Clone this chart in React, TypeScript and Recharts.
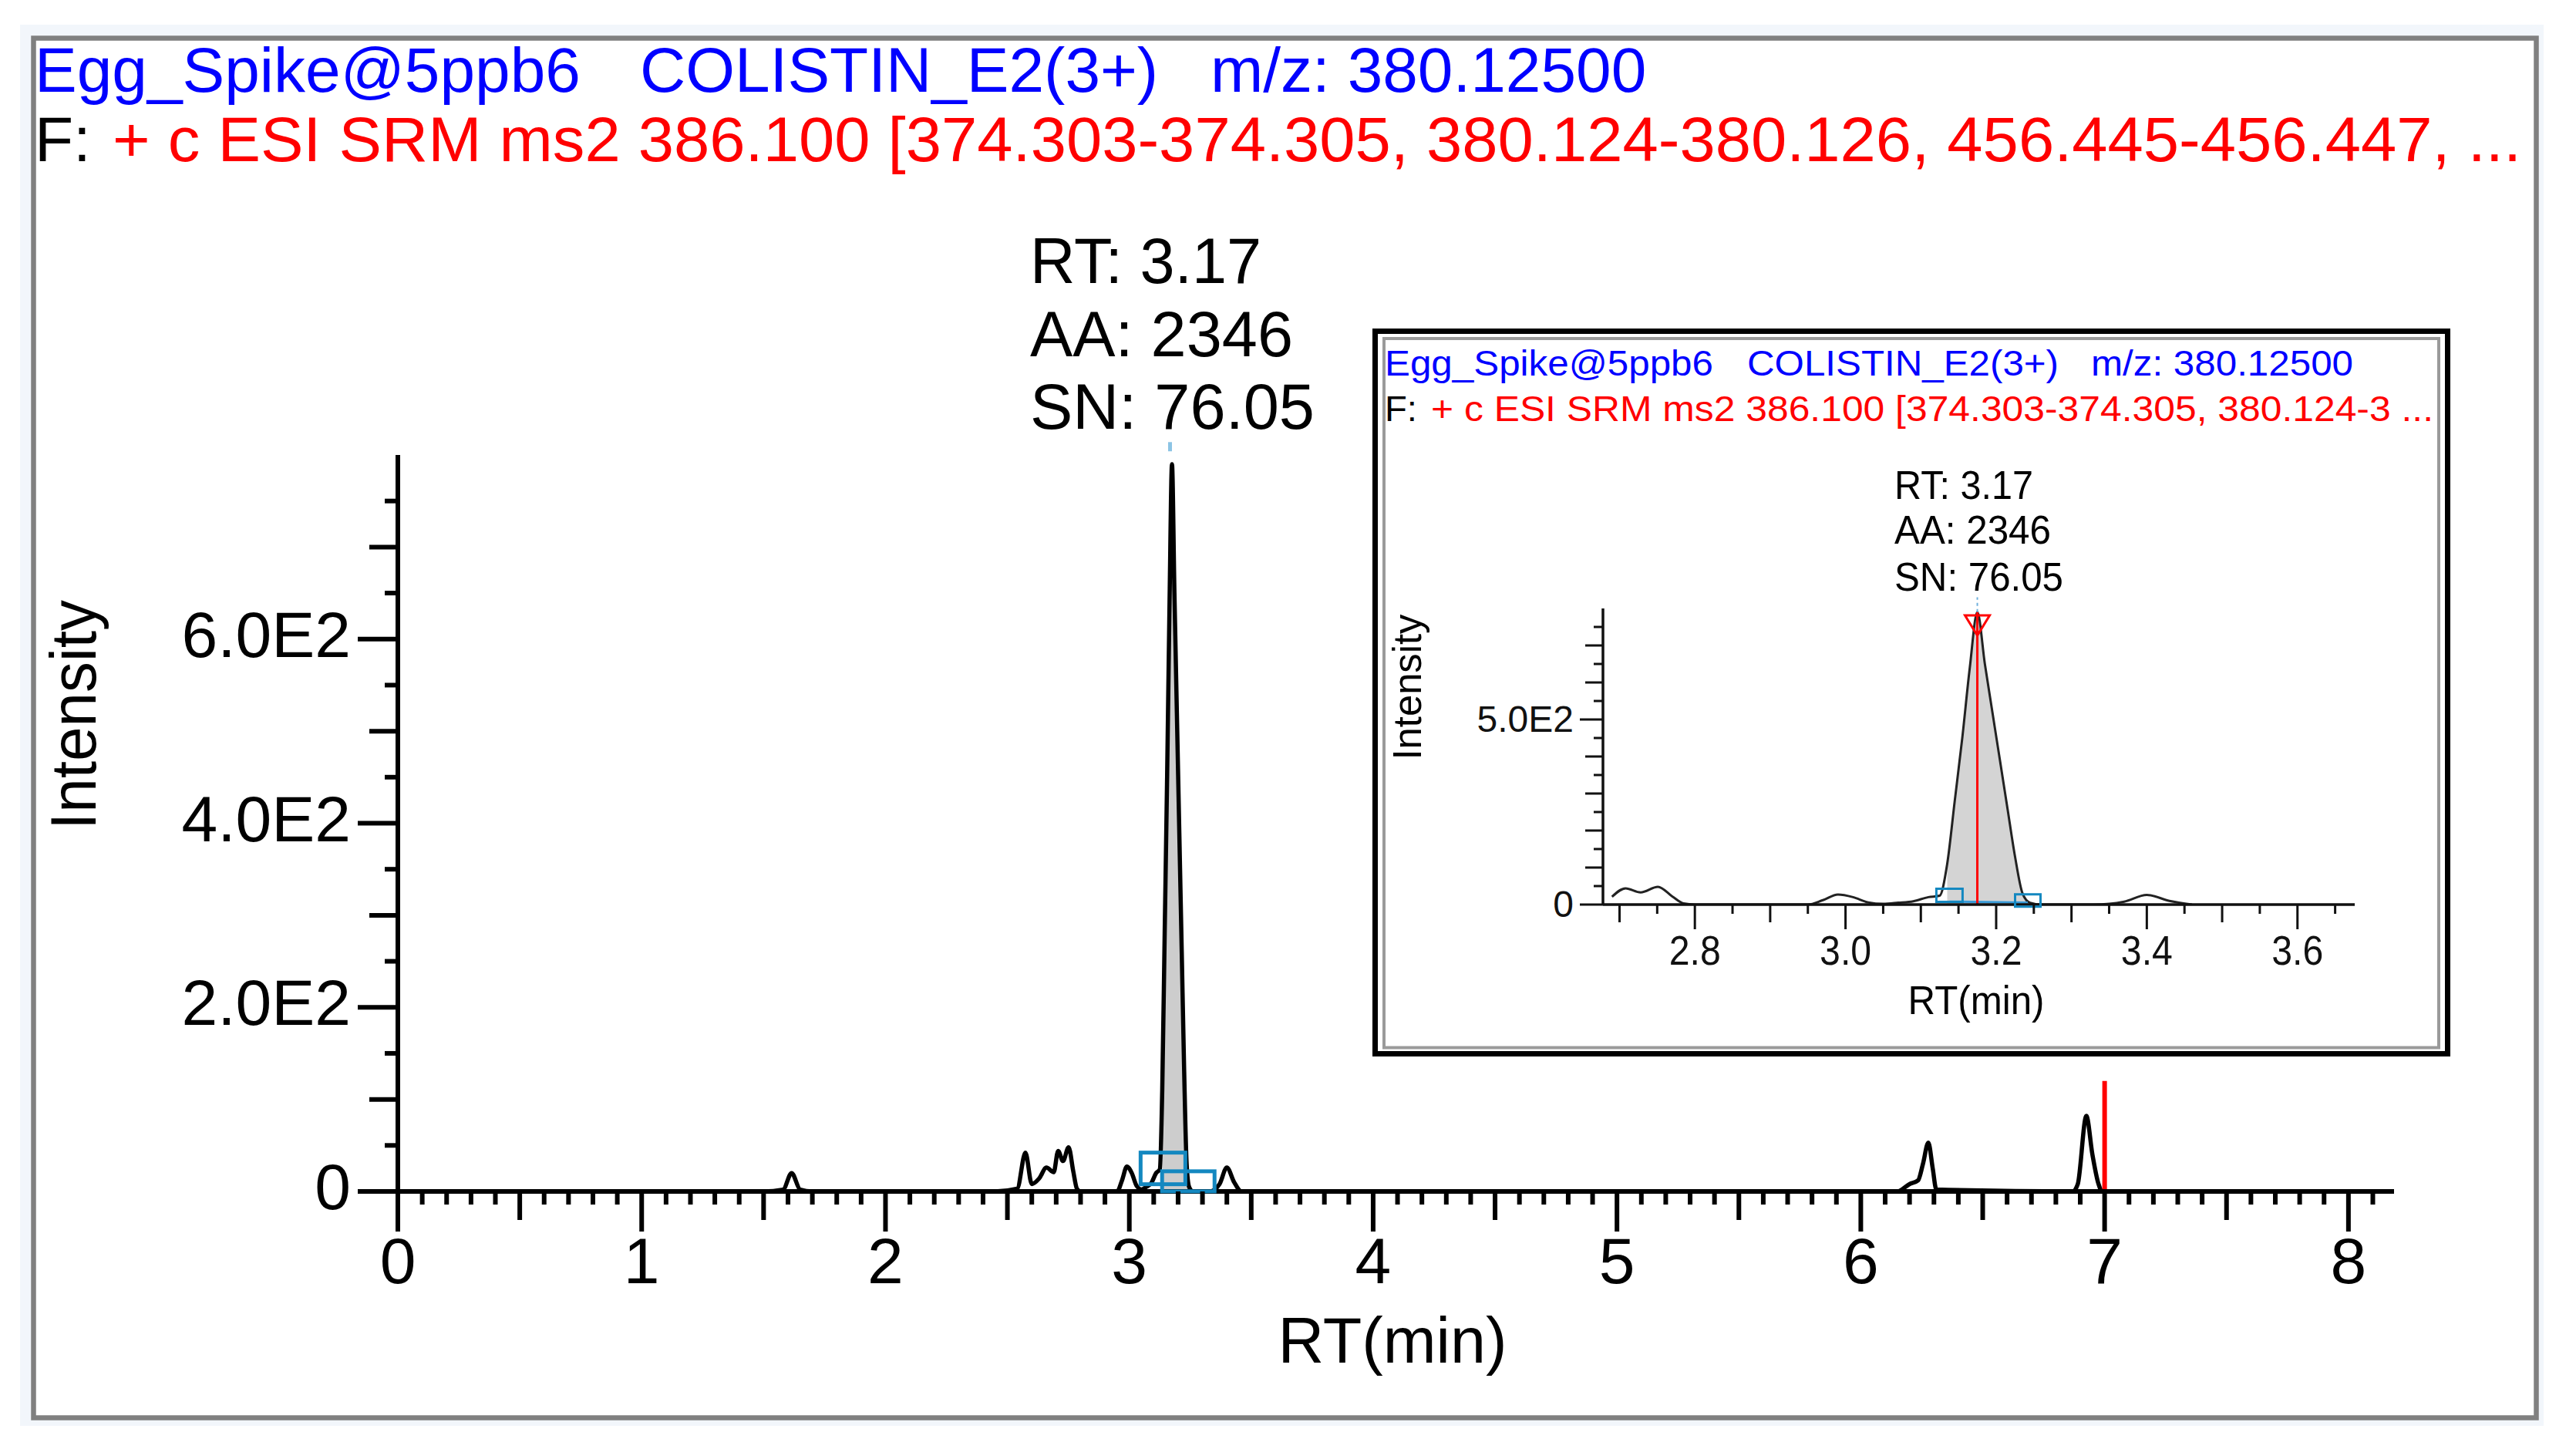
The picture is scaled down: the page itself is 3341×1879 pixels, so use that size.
import React from 'react';
import { ComposedChart, Line, Area, XAxis, YAxis, ReferenceLine, ReferenceDot } from 'recharts';

const FONT = '"Liberation Sans", Arial, Helvetica, sans-serif';

// header / annotation text
const titleParts = ['Egg_Spike@5ppb6', 'COLISTIN_E2(3+)', 'm/z: 380.12500'];
const filterPrefix = 'F:';
const filterText = '+ c ESI SRM ms2 386.100 [374.303-374.305, 380.124-380.126, 456.445-456.447, ...';
const insetFilterText = '+ c ESI SRM ms2 386.100 [374.303-374.305, 380.124-3 ...';
const peakLabels = ['RT: 3.17', 'AA: 2346', 'SN: 76.05'];
const xTitle = 'RT(min)';
const yTitle = 'Intensity';

// chromatogram trace
const retention = [
  0, 1.5, 1.58, 1.615, 1.65, 1.7,
  2.45, 2.54, 2.574, 2.6, 2.63, 2.66, 2.69, 2.708, 2.728, 2.751, 2.77, 2.785, 2.8,
  2.95, 2.97, 2.99, 3.01, 3.03, 3.05, 3.07, 3.09, 3.11, 3.125,
  3.135, 3.145, 3.155, 3.165, 3.175, 3.185, 3.195, 3.205, 3.215, 3.225, 3.235, 3.245, 3.26,
  3.33, 3.37, 3.4, 3.43, 3.46,
  6.15, 6.2, 6.235, 6.255, 6.277, 6.295, 6.31,
  6.87, 6.89, 6.925, 6.95, 6.975, 6.99, 7.0,
];
const intensity = [
  0, 0, 2, 20, 2, 0,
  0, 3, 42, 8, 14, 26, 21, 44, 33, 48, 22, 3, 0,
  0, 12, 27, 20, 6, 2, 5, 9, 20, 24,
  110, 280, 450, 640, 790, 650, 520, 390, 260, 130, 30, 5, 0,
  0, 8, 26, 10, 0,
  0, 8, 12, 30, 53, 25, 2,
  0, 8, 82, 40, 8, 0, 0,
];

// integrated peak
const peakWindow = [3.13, 3.245];
const apexRt = 3.175;
const apexIntensity = 790;
const boundRt = [3.138, 3.242];
const boundIntensity = [25, 11];
const endRt = 7;
const endMarkerTop = 120;

const mainXTicks = Array.from({ length: 82 }, (_, i) => i / 10);
const mainYTicks = Array.from({ length: 16 }, (_, i) => i * 50);
const insetXTicks = Array.from({ length: 20 }, (_, i) => (270 + i * 5) / 100);
const insetYTicks = mainYTicks;

const rows = retention.map((t, i) => ({
  rt: t,
  intensity: intensity[i],
  peakFill: t >= peakWindow[0] && t <= peakWindow[1] ? intensity[i] : null,
}));
const insetRows = rows.filter(r => r.rt >= 2.69 && r.rt <= 3.68);

const BLUE_MARK = '#1488c0';

const Txt = ({ x, y, size, fill = '#000', len, anchor = 'start', rotate, children }: any) => (
  <text
    x={x}
    y={y}
    fontSize={size}
    fill={fill}
    fontFamily={FONT}
    textAnchor={anchor}
    textLength={len}
    lengthAdjust={len ? 'spacingAndGlyphs' : undefined}
    transform={rotate ? `rotate(${rotate} ${x} ${y})` : undefined}
  >
    {children}
  </text>
);

const MainXTick = (props: any) => {
  const { x, y, payload } = props;
  const k = Math.round(payload.value * 10);
  const len = k % 10 === 0 ? 52 : k % 5 === 0 ? 37 : 17;
  return (
    <g>
      <line x1={x} x2={x} y1={y} y2={y + len} stroke="#000" strokeWidth={6} />
      {k % 10 === 0 && (
        <text x={x} y={y + 119} textAnchor="middle" fontSize={84} fontFamily={FONT} fill="#000">
          {k / 10}
        </text>
      )}
    </g>
  );
};

const MainYTick = (props: any) => {
  const { x, y, payload } = props;
  const v = payload.value;
  const len = v % 200 === 0 ? 52 : v % 100 === 0 ? 37 : 17;
  const label = v === 0 ? '0' : `${(v / 100).toFixed(1)}E2`;
  return (
    <g>
      <line x1={x - len} x2={x} y1={y} y2={y} stroke="#000" strokeWidth={6} />
      {v % 200 === 0 && (
        <text x={x - 61} y={y + 23} textAnchor="end" fontSize={84} fontFamily={FONT} fill="#000">
          {label}
        </text>
      )}
    </g>
  );
};

const InsetXTick = (props: any) => {
  const { x, y, payload } = props;
  const k = Math.round(payload.value * 100);
  const major = k % 20 === 0;
  const len = major ? 32 : k % 10 === 0 ? 23 : 12;
  return (
    <g>
      <line x1={x} x2={x} y1={y} y2={y + len} stroke="#111" strokeWidth={3} />
      {major && (
        <text x={x} y={y + 78} textAnchor="middle" fontSize={54} fontFamily={FONT} fill="#111"
          textLength={67} lengthAdjust="spacingAndGlyphs">
          {(k / 100).toFixed(1)}
        </text>
      )}
    </g>
  );
};

const InsetYTick = (props: any) => {
  const { x, y, payload } = props;
  const v = payload.value;
  const len = v % 500 === 0 ? 30 : v % 100 === 0 ? 23 : 12;
  const label = v === 0 ? '0' : `${(v / 100).toFixed(1)}E2`;
  return (
    <g>
      <line x1={x - len} x2={x} y1={y} y2={y} stroke="#111" strokeWidth={3} />
      {v % 500 === 0 && (
        <text x={x - 38} y={y + 16} textAnchor="end" fontSize={48} fontFamily={FONT} fill="#111">
          {label}
        </text>
      )}
    </g>
  );
};

const boxShape = (w: number, h: number, sw: number) => (p: any) => (
  <rect x={p.cx - w / 2} y={p.cy - h / 2} width={w} height={h} fill="none" stroke={BLUE_MARK} strokeWidth={sw} />
);

const apexTriangle = (p: any) => (
  <polygon
    points={`${p.cx - 16},${p.cy} ${p.cx + 16},${p.cy} ${p.cx},${p.cy + 26}`}
    fill="none"
    stroke="#ff0000"
    strokeWidth={3}
  />
);

const MainChart = () => (
  <ComposedChart width={3341} height={1879} data={rows} margin={{ top: 590, right: 236, bottom: 234, left: 416 }}>
    <XAxis
      dataKey="rt"
      type="number"
      domain={[0, 8.187]}
      allowDataOverflow
      ticks={mainXTicks}
      interval={0}
      tickSize={0}
      tickMargin={0}
      tickLine={false}
      axisLine={{ stroke: '#000', strokeWidth: 6 }}
      tick={<MainXTick />}
      height={100}
    />
    <YAxis
      type="number"
      domain={[0, 800]}
      allowDataOverflow
      ticks={mainYTicks}
      interval={0}
      tickSize={0}
      tickMargin={0}
      tickLine={false}
      axisLine={{ stroke: '#000', strokeWidth: 6 }}
      tick={<MainYTick />}
      width={100}
    />
    <Area type="monotone" dataKey="peakFill" fill="#cdcdcd" fillOpacity={1} stroke="none" isAnimationActive={false} />
    <Line type="monotone" dataKey="intensity" stroke="#000" strokeWidth={5.5} dot={false} isAnimationActive={false} />
    <ReferenceLine segment={[{ x: endRt, y: 0 }, { x: endRt, y: endMarkerTop }]} stroke="#ff0000" strokeWidth={6} />
    <ReferenceLine
      segment={[{ x: 3.167, y: 804 }, { x: 3.167, y: 814 }]}
      stroke="#8cc4e4"
      strokeWidth={5}
      ifOverflow="visible"
    />
    <ReferenceDot x={boundRt[0]} y={boundIntensity[0]} shape={boxShape(58, 41, 5)} />
    <ReferenceDot x={boundRt[1]} y={boundIntensity[1]} shape={boxShape(68, 26, 5)} />
  </ComposedChart>
);

const InsetChart = () => (
  <ComposedChart width={1400} height={945} data={insetRows} margin={{ top: 364, right: 124, bottom: 137, left: 241 }}>
    <XAxis
      dataKey="rt"
      type="number"
      domain={[2.678, 3.676]}
      allowDataOverflow
      ticks={insetXTicks}
      interval={0}
      tickSize={0}
      tickMargin={0}
      tickLine={false}
      axisLine={{ stroke: '#111', strokeWidth: 3.5 }}
      tick={<InsetXTick />}
      height={60}
    />
    <YAxis
      type="number"
      domain={[0, 800]}
      allowDataOverflow
      ticks={insetYTicks}
      interval={0}
      tickSize={0}
      tickMargin={0}
      tickLine={false}
      axisLine={{ stroke: '#111', strokeWidth: 3.5 }}
      tick={<InsetYTick />}
      width={60}
    />
    <Area type="monotone" dataKey="peakFill" fill="#d4d4d4" fillOpacity={1} stroke="none" isAnimationActive={false} />
    <Line type="monotone" dataKey="intensity" stroke="#222" strokeWidth={3} dot={false} isAnimationActive={false} />
    <ReferenceLine
      segment={[{ x: boundRt[0], y: 8 }, { x: boundRt[1], y: 5 }]}
      stroke="#3a9ad6"
      strokeWidth={3}
    />
    <ReferenceLine segment={[{ x: apexRt, y: 0 }, { x: apexRt, y: apexIntensity }]} stroke="#ff0000" strokeWidth={3} />
    <ReferenceLine
      segment={[{ x: apexRt, y: 790 }, { x: apexRt, y: 830 }]}
      stroke="#6fb0dc"
      strokeWidth={2}
      strokeDasharray="4 4"
      ifOverflow="visible"
    />
    <ReferenceDot x={apexRt} y={781} shape={apexTriangle} />
    <ReferenceDot x={boundRt[0]} y={boundIntensity[0]} shape={boxShape(34, 17, 3)} />
    <ReferenceDot x={boundRt[1]} y={boundIntensity[1]} shape={boxShape(33, 16, 3)} />
  </ComposedChart>
);

export default function App() {
  return (
    <div style={{ position: 'absolute', left: 0, top: 0, width: 3341, height: 1879, background: '#fff', overflow: 'hidden' }}>
      {/* frames */}
      <svg width={3341} height={1879} style={{ position: 'absolute', left: 0, top: 0 }}>
        <rect x={26} y={32} width={3273} height={1817} fill="#f2f6fb" />
        <rect x={43.5} y={49.5} width={3246} height={1789} fill="#fff" stroke="#808080" strokeWidth={6.5} />
        <rect x={1783.5} y={429.5} width={1391} height={937} fill="#fff" stroke="#000" strokeWidth={7} />
        <rect x={1795} y={439} width={1368} height={919.5} fill="#fff" stroke="#9a9a9a" strokeWidth={4} />
      </svg>

      <div style={{ position: 'absolute', left: 0, top: 0 }}>
        <MainChart />
      </div>

      <div style={{ position: 'absolute', left: 1778, top: 425 }}>
        <InsetChart />
      </div>

      {/* text */}
      <svg width={3341} height={1879} style={{ position: 'absolute', left: 0, top: 0, pointerEvents: 'none' }}>
        <Txt x={45} y={119} size={82} fill="#0000ff">{titleParts[0]}</Txt>
        <Txt x={830} y={119} size={82} fill="#0000ff">{titleParts[1]}</Txt>
        <Txt x={1570} y={119} size={82} fill="#0000ff">{titleParts[2]}</Txt>
        <Txt x={45} y={209} size={82}>{filterPrefix}</Txt>
        <Txt x={146} y={209} size={82} fill="#ff0000" len={3124}>{filterText}</Txt>

        <Txt x={1336} y={367} size={84} len={300}>{peakLabels[0]}</Txt>
        <Txt x={1336} y={462} size={84} len={341}>{peakLabels[1]}</Txt>
        <Txt x={1336} y={556} size={84} len={369}>{peakLabels[2]}</Txt>

        <Txt x={1806} y={1767} size={84} anchor="middle" len={297}>{xTitle}</Txt>
        <Txt x={124} y={927} size={84} anchor="middle" len={298} rotate={-90}>{yTitle}</Txt>

        <Txt x={1796} y={487} size={46} fill="#0000ff" len={426}>{titleParts[0]}</Txt>
        <Txt x={2266} y={487} size={46} fill="#0000ff" len={404}>{titleParts[1]}</Txt>
        <Txt x={2712} y={487} size={46} fill="#0000ff" len={340}>{titleParts[2]}</Txt>
        <Txt x={1796} y={546} size={46} len={42}>{filterPrefix}</Txt>
        <Txt x={1856} y={546} size={46} fill="#ff0000" len={1300}>{insetFilterText}</Txt>

        <Txt x={2457} y={647} size={52} len={180}>{peakLabels[0]}</Txt>
        <Txt x={2457} y={705} size={52} len={203}>{peakLabels[1]}</Txt>
        <Txt x={2457} y={766} size={52} len={219}>{peakLabels[2]}</Txt>

        <Txt x={2563} y={1315} size={52} anchor="middle" len={177}>{xTitle}</Txt>
        <Txt x={1843} y={891} size={52} anchor="middle" len={189} rotate={-90}>{yTitle}</Txt>
      </svg>
    </div>
  );
}
